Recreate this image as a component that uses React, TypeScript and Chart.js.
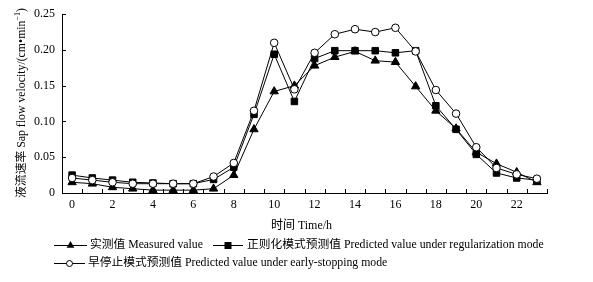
import React, { useEffect, useRef } from "react";
import { Chart, registerables } from "chart.js";

Chart.register(...registerables);

const hours = ["0","1","2","3","4","5","6","7","8","9","10","11","12","13","14","15","16","17","18","19","20","21","22","23"];
const measured = [0.015,0.013,0.008,0.006,0.004,0.004,0.004,0.006,0.025,0.089,0.142,0.150,0.178,0.190,0.198,0.185,0.183,0.149,0.115,0.090,0.057,0.041,0.029,0.015];
const regularization = [0.025,0.021,0.018,0.015,0.014,0.013,0.013,0.019,0.036,0.110,0.194,0.128,0.188,0.199,0.199,0.199,0.196,0.199,0.122,0.089,0.054,0.028,0.021,0.018];
const earlyStopping = [0.021,0.018,0.015,0.013,0.013,0.013,0.013,0.023,0.042,0.115,0.210,0.145,0.196,0.222,0.229,0.225,0.231,0.198,0.144,0.111,0.064,0.035,0.026,0.020];
const seriesNames = [
  "实测值 Measured value",
  "正则化模式预测值 Predicted value under regularization mode",
  "早停止模式预测值 Predicted value under early-stopping mode",
];
const xTitle = "时间 Time/h";
const yTitleMain = "液流速率 Sap flow velocity/(cm•min";
const yTitleSup = "−1";
const yTitleEnd = ")";

const FONT = '"Liberation Serif", "Noto Sans CJK SC", serif';

function drawMarker(ctx: CanvasRenderingContext2D, kind: string, x: number, y: number) {
  ctx.save();
  ctx.lineWidth = 1;
  ctx.strokeStyle = "#000";
  if (kind === "triangle") {
    const r = 4.5;
    ctx.beginPath();
    ctx.moveTo(x, y - r);
    ctx.lineTo(x + r * 0.866, y + r * 0.5);
    ctx.lineTo(x - r * 0.866, y + r * 0.5);
    ctx.closePath();
    ctx.fillStyle = "#000";
    ctx.fill();
  } else if (kind === "rect") {
    ctx.fillStyle = "#000";
    ctx.fillRect(x - 3.5, y - 3.5, 7, 7);
  } else {
    ctx.beginPath();
    ctx.arc(x, y, 3, 0, Math.PI * 2);
    ctx.fillStyle = "#fff";
    ctx.fill();
    ctx.stroke();
  }
  ctx.restore();
}

const decorPlugin = {
  id: "decor",
  afterDraw(chart: any) {
    const ctx: CanvasRenderingContext2D = chart.ctx;
    const { left, right, top, bottom } = chart.chartArea;
    const yScale = chart.scales.y;
    const xScale = chart.scales.x;
    ctx.save();
    ctx.strokeStyle = "#000";
    ctx.lineWidth = 1;
    // inward y tick marks
    yScale.ticks.forEach((t: any) => {
      const py = Math.round(yScale.getPixelForValue(t.value)) + 0.5;
      ctx.beginPath();
      ctx.moveTo(left, py);
      ctx.lineTo(left + 4, py);
      ctx.stroke();
    });
    // inward x tick marks at category boundaries
    const n = hours.length;
    const step = xScale.getPixelForValue(1) - xScale.getPixelForValue(0);
    for (let i = 0; i <= n; i++) {
      const px0 = i < n ? xScale.getPixelForValue(i) - step / 2 : right;
      const px = Math.round(px0) + 0.5;
      ctx.beginPath();
      ctx.moveTo(px, bottom);
      ctx.lineTo(px, bottom - 4);
      ctx.stroke();
    }
    // x title
    ctx.fillStyle = "#000";
    ctx.font = "12px " + FONT;
    ctx.textAlign = "center";
    ctx.textBaseline = "middle";
    ctx.fillText(xTitle, (left + right) / 2 - 3, 226);
    // y title
    ctx.save();
    ctx.translate(22, 103);
    ctx.rotate(-Math.PI / 2);
    ctx.font = "11.8px " + FONT;
    const w1 = ctx.measureText(yTitleMain).width;
    ctx.font = "8px " + FONT;
    const w2 = ctx.measureText(yTitleSup).width;
    ctx.font = "11.8px " + FONT;
    const w3 = ctx.measureText(yTitleEnd).width;
    let sx = -(w1 + w2 + w3) / 2;
    ctx.textAlign = "left";
    ctx.textBaseline = "middle";
    ctx.fillText(yTitleMain, sx, 0);
    sx += w1;
    ctx.font = "8px " + FONT;
    ctx.fillText(yTitleSup, sx, -4);
    sx += w2;
    ctx.font = "11.8px " + FONT;
    ctx.fillText(yTitleEnd, sx, 0);
    ctx.restore();
    // legend
    const items = [
      { kind: "triangle", x0: 54, x1: 87, y: 245, tx: 90, label: seriesNames[0] },
      { kind: "rect", x0: 213, x1: 243, y: 245, tx: 247, label: seriesNames[1] },
      { kind: "circle", x0: 54, x1: 85, y: 263, tx: 88, label: seriesNames[2] },
    ];
    items.forEach((it) => {
      ctx.beginPath();
      ctx.moveTo(it.x0, it.y + 0.5);
      ctx.lineTo(it.x1, it.y + 0.5);
      ctx.stroke();
      drawMarker(ctx, it.kind, (it.x0 + it.x1) / 2, it.y + 0.5);
      ctx.font = "11.75px " + FONT;
      ctx.textAlign = "left";
      ctx.textBaseline = "middle";
      ctx.fillStyle = "#000";
      ctx.fillText(it.label, it.tx, it.y);
    });
    ctx.restore();
  },
};

export default function App() {
  const ref = useRef<HTMLCanvasElement | null>(null);
  useEffect(() => {
    document.body.style.margin = "0";
    const canvas = ref.current!;
    const chart = new Chart(canvas, {
      type: "line",
      data: {
        labels: hours,
        datasets: [
          {
            label: seriesNames[0],
            data: measured,
            borderColor: "#000",
            borderWidth: 1,
            backgroundColor: "#000",
            pointStyle: "triangle",
            pointRadius: 4.8,
            pointBackgroundColor: "#000",
            pointBorderColor: "#000",
            pointBorderWidth: 1,
            order: 2,
          },
          {
            label: seriesNames[1],
            data: regularization,
            borderColor: "#000",
            borderWidth: 1,
            backgroundColor: "#000",
            pointStyle: "rect",
            pointRadius: 4.6,
            pointBackgroundColor: "#000",
            pointBorderColor: "#000",
            pointBorderWidth: 1,
            order: 1,
          },
          {
            label: seriesNames[2],
            data: earlyStopping,
            borderColor: "#000",
            borderWidth: 1,
            backgroundColor: "#fff",
            pointStyle: "circle",
            pointRadius: 3.8,
            pointBackgroundColor: "#fff",
            pointBorderColor: "#000",
            pointBorderWidth: 1,
            order: 0,
          },
        ],
      },
      options: {
        responsive: false,
        animation: false,
        devicePixelRatio: 1,
        layout: { padding: { left: 0, right: 46, top: 12, bottom: 0 } },
        plugins: { legend: { display: false }, tooltip: { enabled: false }, title: { display: false } },
        elements: { line: { tension: 0 } },
        scales: {
          x: {
            type: "category",
            offset: true,
            grid: { display: false, drawTicks: false, offset: true },
            border: { display: true, color: "#000", width: 1 },
            ticks: {
              autoSkip: false,
              maxRotation: 0,
              padding: 5,
              color: "#000",
              font: { family: FONT, size: 12 },
              callback: (_v: any, i: number) => (i % 2 === 0 ? hours[i] : ""),
            },
            afterFit: (s: any) => { s.height = 89; },
          },
          y: {
            min: 0,
            max: 0.25,
            grid: { display: false, drawTicks: false },
            border: { display: true, color: "#000", width: 1 },
            ticks: {
              stepSize: 0.05,
              padding: 7,
              color: "#000",
              font: { family: FONT, size: 12 },
              callback: (v: any) => (Number(v) === 0 ? "0" : Number(v).toFixed(2)),
            },
            afterFit: (s: any) => { s.width = 62; },
          },
        },
      },
      plugins: [decorPlugin],
    });
    return () => chart.destroy();
  }, []);
  return (
    <div style={{ position: "absolute", left: 0, top: 0, width: 593, height: 282, background: "#fff" }}>
      <canvas ref={ref} width={593} height={282} style={{ width: 593, height: 282, display: "block" }} />
    </div>
  );
}
